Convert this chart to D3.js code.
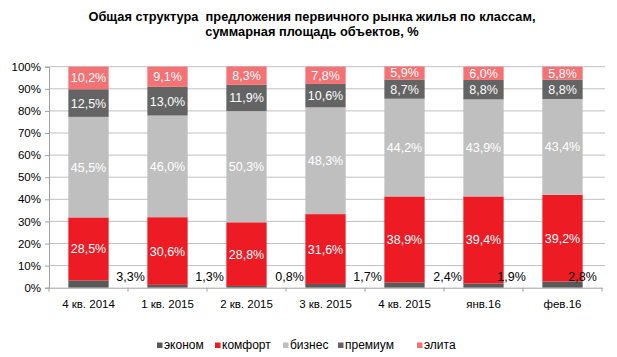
<!DOCTYPE html>
<html><head><meta charset="utf-8">
<script src="https://cdn.jsdelivr.net/npm/d3@7"></script>
<style>body{margin:0;background:#fff;}svg{display:block;font-family:"Liberation Sans",Arial,sans-serif;}</style>
</head><body>
<svg id="c" width="617" height="357"></svg>
<script>
const categories = ["4 кв. 2014","1 кв. 2015","2 кв. 2015","3 кв. 2015","4 кв. 2015","янв.16","фев.16"];
const seriesNames = ["эконом","комфорт","бизнес","премиум","элита"];
const econom  = [3.3, 1.3, 0.8, 1.7, 2.4, 1.9, 2.8];
const komfort = [28.5, 30.6, 28.8, 31.6, 38.9, 39.4, 39.2];
const biznes  = [45.5, 46.0, 50.3, 48.3, 44.2, 43.9, 43.4];
const premium = [12.5, 13.0, 11.9, 10.6, 8.7, 8.8, 8.8];
const elita   = [10.2, 9.1, 8.3, 7.8, 5.9, 6.0, 5.8];
const yTicks = [0,10,20,30,40,50,60,70,80,90,100];

const colors = ["#595959","#ed1c24","#bfbfbf","#646464","#f47174"];
const labelColors = ["#000","#fff","#fff","#fff","#fff"];
const econLabelDx = [42,42,43,42,43,28,20];

const svg = d3.select("#c");
const m = {l:49};
const x = d3.scaleBand().domain(categories).range([m.l, 602]).paddingInner(0.49).paddingOuter(0.245);
const y = d3.scaleLinear().domain([0,100]).range([287.7, 66.7]);

// title
svg.append("text").attr("x",312).attr("y",21).attr("text-anchor","middle")
  .attr("font-weight","bold").attr("font-size",12.8).attr("fill","#000")
  .style("white-space","pre")
  .text("Общая структура  предложения первичного рынка жилья по классам,");
svg.append("text").attr("x",312).attr("y",36).attr("text-anchor","middle")
  .attr("font-weight","bold").attr("font-size",12.8).attr("fill","#000")
  .text("суммарная площадь объектов, %");

// grid
svg.append("g").selectAll("line").data(yTicks.filter(d=>d>0)).join("line")
  .attr("x1",m.l).attr("x2",605).attr("y1",d=>y(d)).attr("y2",d=>y(d))
  .attr("stroke","#c0c0c0").attr("stroke-width",1);

// y axis
const ya = svg.append("g").attr("transform",`translate(${m.l},0)`)
  .call(d3.axisLeft(y).tickValues(yTicks).tickFormat(d=>d+"%").tickSize(4).tickPadding(4));
ya.select(".domain").attr("stroke","#a0a0a0");
ya.selectAll(".tick line").attr("stroke","#a0a0a0");
ya.selectAll("text").attr("font-size",11.5).attr("fill","#000").attr("font-family","Liberation Sans, Arial, sans-serif");

// stack
const rows = categories.map((c,i)=>({cat:c, "эконом":econom[i], "комфорт":komfort[i], "бизнес":biznes[i], "премиум":premium[i], "элита":elita[i]}));
const stacked = d3.stack().keys(seriesNames)(rows);

const g = svg.append("g");
stacked.forEach((s,si)=>{
  g.selectAll(null).data(s).join("rect")
    .attr("x",d=>x(d.data.cat)).attr("width",x.bandwidth())
    .attr("y",d=>y(d[1])).attr("height",d=>y(d[0])-y(d[1]))
    .attr("fill",colors[si]);
});

// x axis
const xa = svg.append("g").attr("transform",`translate(0,${y(0)})`)
  .call(d3.axisBottom(x).tickSize(0).tickPadding(12));
xa.select(".domain").attr("stroke","#a0a0a0");
xa.selectAll("text").attr("font-size",11.5).attr("fill","#000").attr("font-family","Liberation Sans, Arial, sans-serif");
const step = x.step();
svg.append("g").selectAll("line").data(d3.range(categories.length+1)).join("line")
  .attr("x1",i=>m.l+i*step).attr("x2",i=>m.l+i*step)
  .attr("y1",y(0)).attr("y2",y(0)+4).attr("stroke","#a0a0a0");

// labels
const fmt = v => v.toFixed(1).replace(".",",")+"%";
stacked.forEach((s,si)=>{
  g.selectAll(null).data(s).join("text")
    .attr("x",(d,i)=> si===0 ? x(d.data.cat)+x.bandwidth()/2+econLabelDx[i] : x(d.data.cat)+x.bandwidth()/2)
    .attr("y",(d,i)=> si===0 ? y(0)-7 : (y(d[0])+y(d[1]))/2+4.5)
    .attr("text-anchor","middle").attr("font-size",12.5)
    .attr("fill",labelColors[si])
    .text(d=>fmt(d[1]-d[0]));
});

// legend
const legendX = [157,215,283,338,417];
const lg = svg.append("g");
seriesNames.forEach((n,i)=>{
  lg.append("rect").attr("x",legendX[i]).attr("y",342.5).attr("width",5.5).attr("height",5.5).attr("fill",colors[i]);
  lg.append("text").attr("x",legendX[i]+7).attr("y",349).attr("font-size",12).attr("fill","#000").text(n);
});
</script>
</body></html>
